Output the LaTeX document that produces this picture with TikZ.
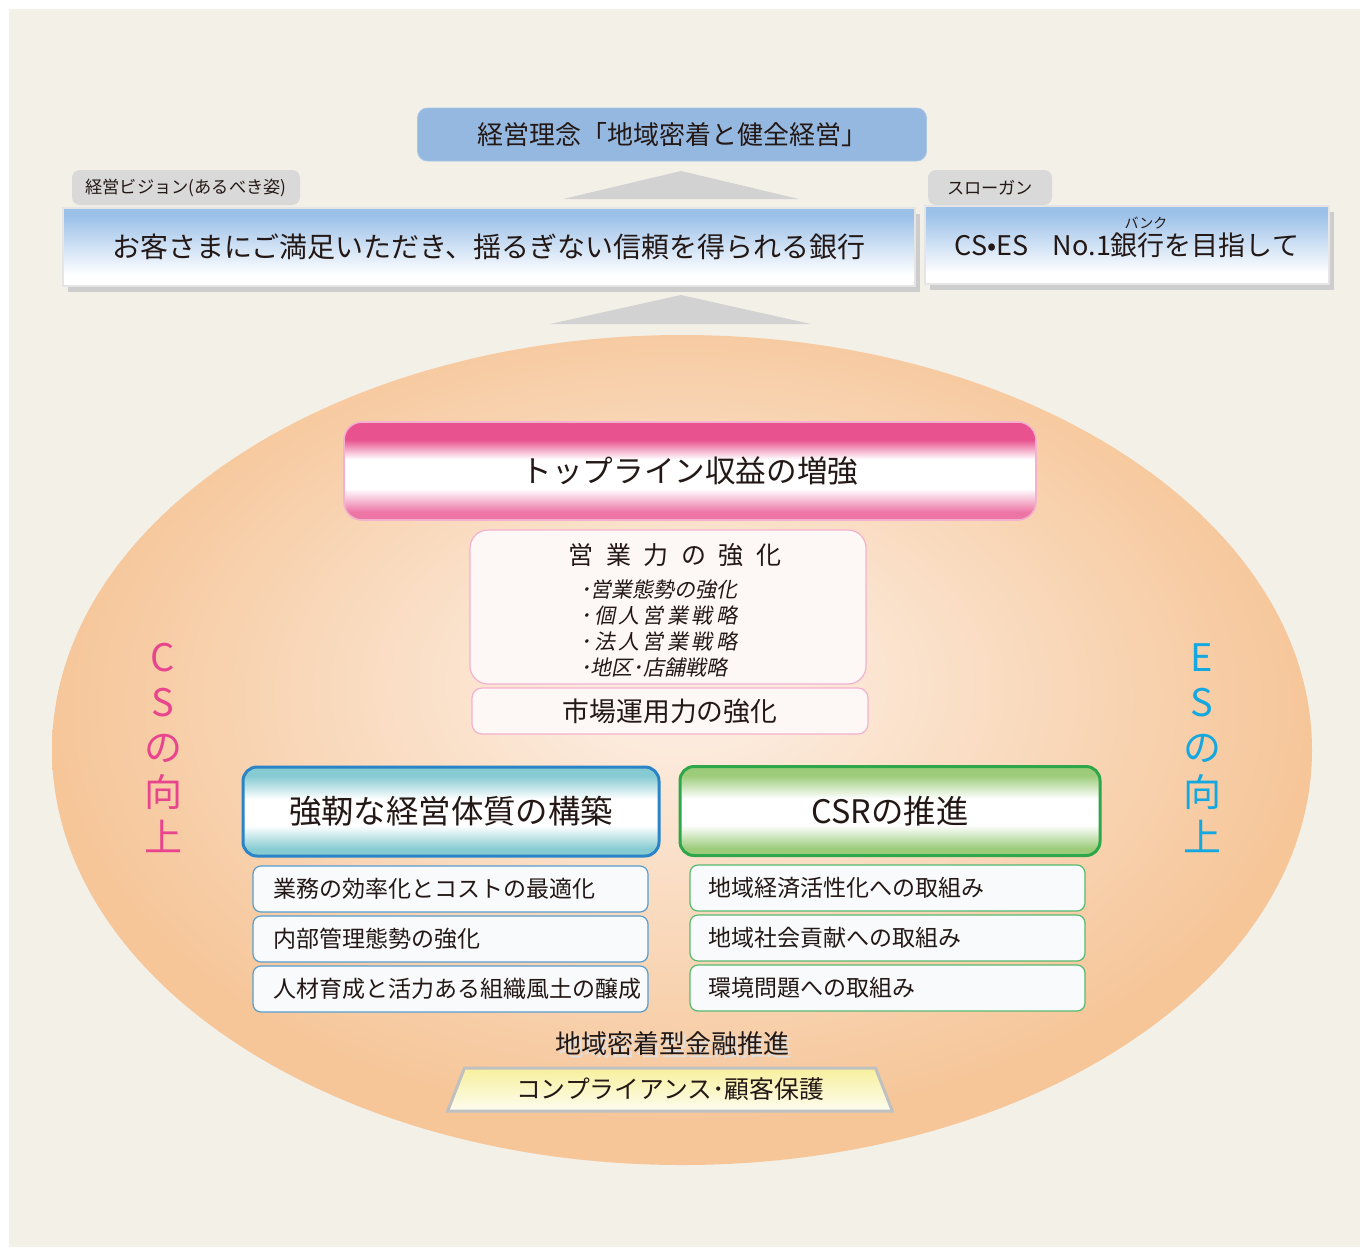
\documentclass[tikz,border=0pt]{standalone}
\usepackage{fontspec}
\setmainfont{Noto Sans CJK JP}
\newfontfamily\slantjp[FakeSlant=0.2]{Noto Sans CJK JP}
\newfontfamily\slantwidejp[FakeSlant=0.2,LetterSpace=16]{Noto Sans CJK JP}
\newfontfamily\widejp[LetterSpace=50]{Noto Sans CJK JP}
\usetikzlibrary{positioning,shapes.geometric,shadows}
\definecolor{panel}{HTML}{F3F0E8}
\definecolor{ink}{HTML}{231815}
\definecolor{philblue}{HTML}{94B8DF}
\definecolor{tabgray}{HTML}{D9D9D9}
\definecolor{wedgegray}{HTML}{D2D2D2}
\definecolor{skyblue}{HTML}{9CC1E9}
\definecolor{bevel}{HTML}{CDCDCD}
\definecolor{eggedge}{HTML}{F6C699}
\definecolor{egglight}{HTML}{FCEBDD}
\definecolor{topink}{HTML}{E8528E}
\definecolor{softpink}{HTML}{F3B1CE}
\definecolor{cardwhite}{HTML}{FDF8F6}
\definecolor{teal}{HTML}{86CBD2}
\definecolor{pillarblue}{HTML}{2A84C6}
\definecolor{leaf}{HTML}{9CCC7A}
\definecolor{pillargreen}{HTML}{2EA64A}
\definecolor{itemwhite}{HTML}{F9FAFC}
\definecolor{lemon}{HTML}{F7F09C}
\definecolor{rimgray}{HTML}{C0C0C0}
\definecolor{csred}{HTML}{E8458E}
\definecolor{escyan}{HTML}{14A8E0}
\pgfdeclareverticalshading{skyfade}{100bp}{color(0bp)=(white); color(32bp)=(white); color(70bp)=(skyblue); color(100bp)=(skyblue)}
\pgfdeclareverticalshading{pinkband}{100bp}{color(0bp)=(topink!80); color(29bp)=(topink!80); color(41bp)=(white); color(56bp)=(white); color(66bp)=(topink); color(100bp)=(topink)}
\pgfdeclareverticalshading{tealband}{100bp}{color(0bp)=(teal); color(29bp)=(teal); color(42bp)=(white); color(57bp)=(white); color(70bp)=(teal); color(100bp)=(teal)}
\pgfdeclareverticalshading{leafband}{100bp}{color(0bp)=(leaf); color(29bp)=(leaf); color(42bp)=(white); color(57bp)=(white); color(70bp)=(leaf); color(100bp)=(leaf)}
\pgfdeclareradialshading{eggglow}{\pgfpoint{0bp}{5bp}}{color(0bp)=(egglight); color(4bp)=(egglight); color(25bp)=(eggedge); color(50bp)=(eggedge)}
\tikzset{
    creed/.style={
    rectangle,rounded corners=5pt,fill=philblue,draw=philblue!80!white,
    minimum width=254.5pt,minimum height=26.5pt,font=\fontsize{13}{16}\selectfont
    },
    wedge/.style={
    fill=wedgegray
    },
    tag/.style={
    rectangle,rounded corners=4pt,fill=tabgray,minimum height=17.5pt,inner sep=1pt,
    font=\fontsize{8.6}{10}\selectfont
    },
    banner/.style={
    rectangle,shade,shading=skyfade,draw=white!80!gray,line width=0.6pt,minimum height=39pt,
    drop shadow={shadow xshift=2.5pt,shadow yshift=-3pt,fill=bevel,opacity=1},
    font=\fontsize{14}{17}\selectfont
    },
    ruby/.style={
    inner sep=0pt,font=\fontsize{7}{8}\selectfont
    },
    topline/.style={
    rectangle,rounded corners=9pt,shade,shading=pinkband,draw=softpink,line width=0.8pt,
    minimum width=346pt,minimum height=49pt,font=\fontsize{15.3}{18}\selectfont
    },
    card/.style={
    rectangle,rounded corners=9pt,fill=cardwhite,draw=softpink,line width=0.6pt,
    minimum width=198pt
    },
    pillar/.style={
    rectangle,rounded corners=7pt,shade,line width=1.5pt,minimum height=44.5pt,
    font=\fontsize{16.2}{19}\selectfont
    },
    subitem/.style={
    rectangle,rounded corners=4pt,fill=itemwhite,line width=0.6pt,minimum height=23pt,
    align=left,inner xsep=10pt,text width=177.5pt,font=\fontsize{11.5}{14}\selectfont
    },
    shield/.style={
    trapezium,trapezium angle=70,trapezium stretches=true,minimum width=222.5pt,
    minimum height=21.5pt,draw=rimgray,line width=1.5pt,top color=lemon,bottom color=lemon!15,
    font=\fontsize{12.4}{15}\selectfont
    },
    upright/.style={
    align=center,inner sep=0pt,font=\fontsize{19}{22.5}\selectfont
    },
}
\begin{document}
\begin{tikzpicture}[x=0.5pt, y=-0.5pt, node distance=25pt, on grid,
    every node/.append style={text=ink}]
  \useasboundingbox (0,0) rectangle (1360,1249);
  \fill[white] (0,0) rectangle (1360,1249);
  \fill[panel] (9,9) rectangle (1360,1247);

  \node[creed] (creed) at (672,134.5) {経営理念「地域密着と健全経営」};
  \fill[wedge] (563,199) -- (681,171) -- (799,199) -- cycle;
  \node[tag, minimum width=114pt] (visiontag) at (186,187.5) {経営ビジョン(あるべき姿)};
  \node[tag, minimum width=62pt] (slogantag) at (990,187.5) {スローガン};
  \node[banner, minimum width=426pt] (vision) at (489,247) {お客さまにご満足いただき、揺るぎない信頼を得られる銀行};
  \node[banner, minimum width=202pt, font=\fontsize{13.5}{16}\selectfont] (slogan) at (1127,245) {CS•ES\hspace{0.9em}No.1銀行を目指して};
  \node[ruby] (bank) at (1146,223) {バンク};
  \fill[wedge] (550,324) -- (681,295) -- (811,324) -- cycle;

  \shade[shading=eggglow] (682,750) ellipse [x radius=630, y radius=415];

  \node[upright, text=csred] (cs) at (163,748) {C\\S\\の\\向\\上};
  \node[upright, text=escyan] (es) at (1202,748) {E\\S\\の\\向\\上};

  \node[topline] (topline) at (690,471) {トップライン収益の増強};
  \node[card, minimum height=77pt] (sales) at (668,607) {};
  \node[font=\fontsize{12.5}{15}\selectfont\widejp] (salestitle) at (675,555) {営業力の強化};
  \node[anchor=west, align=left, inner sep=0pt, font=\fontsize{10.5}{13}\selectfont] (saleslist) at (580,628)
    {{\slantjp ･営業態勢の強化}\\{\slantwidejp ･個人営業戦略}\\{\slantwidejp ･法人営業戦略}\\{\slantjp ･地区･店舗戦略}};
  \node[card, rounded corners=5pt, minimum height=23pt, font=\fontsize{13.4}{16}\selectfont] (market) at (670,711) {市場運用力の強化};

  \node[pillar, shading=tealband, draw=pillarblue, minimum width=208pt] (sturdy) at (451,811.5) {強靭な経営体質の構築};
  \node[pillar, shading=leafband, draw=pillargreen, minimum width=210pt] (csr) at (890,811) {CSRの推進};

  \node[subitem, draw=pillarblue!80] (effi) at (450.5,889) {業務の効率化とコストの最適化};
  \node[subitem, draw=pillarblue!80, below=of effi] (audit) {内部管理態勢の強化};
  \node[subitem, draw=pillarblue!80, below=of audit] (talent) {人材育成と活力ある組織風土の醸成};
  \node[subitem, draw=pillargreen!80, inner xsep=9pt, text width=179.5pt] (economy) at (887.5,888) {地域経済活性化への取組み};
  \node[subitem, draw=pillargreen!80, inner xsep=9pt, text width=179.5pt, below=of economy] (society) {地域社会貢献への取組み};
  \node[subitem, draw=pillargreen!80, inner xsep=9pt, text width=179.5pt, below=of society] (ecology) {環境問題への取組み};

  \node[font=\fontsize{13}{16}\selectfont, text=white!75!gray] (regionshade) at (675,1047) {地域密着型金融推進};
  \node[font=\fontsize{13}{16}\selectfont] (region) at (672,1044) {地域密着型金融推進};
  \node[shield] (comply) at (670,1089.5) {コンプライアンス･顧客保護};
\end{tikzpicture}
\end{document}
